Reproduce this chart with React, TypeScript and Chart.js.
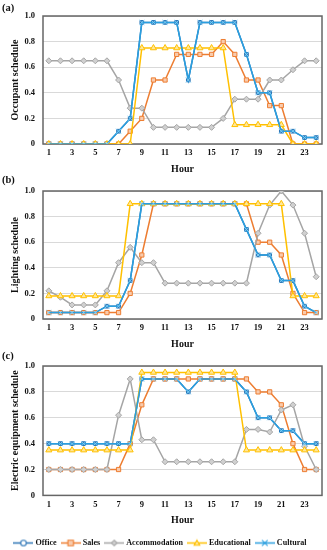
import React, { useEffect, useRef } from 'react';
import { Chart, registerables } from 'chart.js';

Chart.register(...registerables);

// ---------- data ----------
const HOURS = ['1', '2', '3', '4', '5', '6', '7', '8', '9', '10', '11', '12', '13', '14', '15', '16', '17', '18', '19', '20', '21', '22', '23', '24'];
const SERIES_NAMES = ['Office', 'Sales', 'Accommodation', 'Educational', 'Cultural'];
const Y_TICK_STEP = 0.2;

// (a) Occupant schedule
const OCC_OFFICE = [0, 0, 0, 0, 0, 0, 0.1, 0.2, 0.95, 0.95, 0.95, 0.95, 0.5, 0.95, 0.95, 0.95, 0.95, 0.7, 0.4, 0.4, 0.1, 0.1, 0.05, 0.05];
const OCC_SALES = [0, 0, 0, 0, 0, 0, 0, 0.1, 0.2, 0.5, 0.5, 0.7, 0.7, 0.7, 0.7, 0.8, 0.7, 0.5, 0.5, 0.3, 0.3, 0, 0, 0];
const OCC_ACCOM = [0.65, 0.65, 0.65, 0.65, 0.65, 0.65, 0.5, 0.28, 0.28, 0.13, 0.13, 0.13, 0.13, 0.13, 0.13, 0.2, 0.35, 0.35, 0.35, 0.5, 0.5, 0.58, 0.65, 0.65];
const OCC_EDU = [0, 0, 0, 0, 0, 0, 0, 0, 0.75, 0.75, 0.75, 0.75, 0.75, 0.75, 0.75, 0.75, 0.15, 0.15, 0.15, 0.15, 0.15, 0, 0, 0];
const OCC_CULT = [0, 0, 0, 0, 0, 0, 0.1, 0.2, 0.95, 0.95, 0.95, 0.95, 0.5, 0.95, 0.95, 0.95, 0.95, 0.7, 0.4, 0.4, 0.1, 0.1, 0.05, 0.05];

// (b) Lighting schedule
const LIGHT_OFFICE = [0.05, 0.05, 0.05, 0.05, 0.05, 0.1, 0.1, 0.3, 0.9, 0.9, 0.9, 0.9, 0.9, 0.9, 0.9, 0.9, 0.9, 0.7, 0.5, 0.5, 0.3, 0.3, 0.1, 0.05];
const LIGHT_SALES = [0.05, 0.05, 0.05, 0.05, 0.05, 0.05, 0.05, 0.2, 0.5, 0.9, 0.9, 0.9, 0.9, 0.9, 0.9, 0.9, 0.9, 0.9, 0.6, 0.6, 0.5, 0.2, 0.05, 0.05];
const LIGHT_ACCOM = [0.22, 0.17, 0.11, 0.11, 0.11, 0.22, 0.44, 0.56, 0.44, 0.44, 0.28, 0.28, 0.28, 0.28, 0.28, 0.28, 0.28, 0.28, 0.67, 0.89, 1.0, 0.89, 0.67, 0.33];
const LIGHT_EDU = [0.18, 0.18, 0.18, 0.18, 0.18, 0.18, 0.18, 0.9, 0.9, 0.9, 0.9, 0.9, 0.9, 0.9, 0.9, 0.9, 0.9, 0.9, 0.9, 0.9, 0.9, 0.18, 0.18, 0.18];
const LIGHT_CULT = [0.05, 0.05, 0.05, 0.05, 0.05, 0.1, 0.1, 0.3, 0.9, 0.9, 0.9, 0.9, 0.9, 0.9, 0.9, 0.9, 0.9, 0.7, 0.5, 0.5, 0.3, 0.3, 0.1, 0.05];

// (c) Electric equipment schedule
const ELEC_OFFICE = [0.4, 0.4, 0.4, 0.4, 0.4, 0.4, 0.4, 0.4, 0.9, 0.9, 0.9, 0.9, 0.8, 0.9, 0.9, 0.9, 0.9, 0.8, 0.6, 0.6, 0.5, 0.5, 0.4, 0.4];
const ELEC_SALES = [0.2, 0.2, 0.2, 0.2, 0.2, 0.2, 0.2, 0.4, 0.7, 0.9, 0.9, 0.9, 0.9, 0.9, 0.9, 0.9, 0.9, 0.9, 0.8, 0.8, 0.7, 0.4, 0.2, 0.2];
const ELEC_ACCOM = [0.2, 0.2, 0.2, 0.2, 0.2, 0.2, 0.62, 0.9, 0.43, 0.43, 0.26, 0.26, 0.26, 0.26, 0.26, 0.26, 0.26, 0.51, 0.51, 0.49, 0.66, 0.7, 0.38, 0.2];
const ELEC_EDU = [0.35, 0.35, 0.35, 0.35, 0.35, 0.35, 0.35, 0.35, 0.95, 0.95, 0.95, 0.95, 0.95, 0.95, 0.95, 0.95, 0.95, 0.35, 0.35, 0.35, 0.35, 0.35, 0.35, 0.35];
const ELEC_CULT = [0.4, 0.4, 0.4, 0.4, 0.4, 0.4, 0.4, 0.4, 0.9, 0.9, 0.9, 0.9, 0.8, 0.9, 0.9, 0.9, 0.9, 0.8, 0.6, 0.6, 0.5, 0.5, 0.4, 0.4];

// ---------- styles ----------
const FONT = "'Liberation Serif', 'Times New Roman', serif";
const STYLES = [
  { line: '#2E75B6', fill: '#2E75B6', point: 'rect', radius: 2.6 },
  { line: '#ED7D31', fill: '#F8CBAD', point: 'rect', radius: 3 },
  { line: '#A5A5A5', fill: '#D0D0D0', point: 'rectRot', radius: 3 },
  { line: '#FFC000', fill: '#FFE699', point: 'triangle', radius: 3.5 },
  { line: '#2A9FDF', fill: '#2A9FDF', point: 'crossRot', radius: 3.5 },
];
const LEGEND_MARKERS = ['circle', 'rect', 'rectRot', 'triangle', 'crossRot'];

function makeIcon(i: number): HTMLCanvasElement {
  const c = document.createElement('canvas');
  c.width = 20;
  c.height = 9;
  const ctx = c.getContext('2d')!;
  const s = STYLES[i];
  const marker = LEGEND_MARKERS[i];
  ctx.strokeStyle = s.line;
  ctx.lineWidth = 1.5;
  ctx.beginPath();
  ctx.moveTo(0, 4.5);
  ctx.lineTo(20, 4.5);
  ctx.stroke();
  const cx = 10, cy = 4.5, r = 2.8;
  ctx.fillStyle = i === 0 ? '#ffffff' : s.fill;
  ctx.lineWidth = 1.1;
  ctx.beginPath();
  if (marker === 'circle') {
    ctx.arc(cx, cy, r, 0, Math.PI * 2);
    ctx.fill();
    ctx.stroke();
  } else if (marker === 'rect') {
    ctx.rect(cx - r, cy - r, 2 * r, 2 * r);
    ctx.fill();
    ctx.stroke();
  } else if (marker === 'rectRot') {
    ctx.moveTo(cx, cy - r);
    ctx.lineTo(cx + r, cy);
    ctx.lineTo(cx, cy + r);
    ctx.lineTo(cx - r, cy);
    ctx.closePath();
    ctx.fill();
    ctx.stroke();
  } else if (marker === 'triangle') {
    ctx.moveTo(cx, cy - r);
    ctx.lineTo(cx + r, cy + r * 0.8);
    ctx.lineTo(cx - r, cy + r * 0.8);
    ctx.closePath();
    ctx.fill();
    ctx.stroke();
  } else {
    ctx.moveTo(cx - r, cy - r);
    ctx.lineTo(cx + r, cy + r);
    ctx.moveTo(cx + r, cy - r);
    ctx.lineTo(cx - r, cy + r);
    ctx.stroke();
  }
  return c;
}

const boxPlugin = {
  id: 'plotBox',
  beforeDatasetsDraw(chart: any) {
    const { ctx, chartArea } = chart;
    ctx.save();
    ctx.strokeStyle = '#666666';
    ctx.lineWidth = 1.5;
    ctx.strokeRect(chartArea.left, chartArea.top, chartArea.right - chartArea.left, chartArea.bottom - chartArea.top);
    ctx.restore();
  },
};

type PanelProps = {
  top: number;
  height: number;
  yTitle: string;
  series: number[][];
  legend: boolean;
  xAxisHeight: number;
  titlePadBottom: number;
};

function Panel({ top, height, yTitle, series, legend, xAxisHeight, titlePadBottom }: PanelProps) {
  const ref = useRef<HTMLCanvasElement>(null);
  useEffect(() => {
    const icons = SERIES_NAMES.map((_, i) => makeIcon(i));
    const chart = new Chart(ref.current!, {
      type: 'line',
      data: {
        labels: HOURS,
        datasets: series.map((d, i) => ({
          label: SERIES_NAMES[i],
          data: d,
          borderColor: STYLES[i].line,
          backgroundColor: STYLES[i].fill,
          borderWidth: 1.5,
          pointStyle: STYLES[i].point as any,
          pointRadius: STYLES[i].radius,
          pointBorderColor: i === 4 ? '#7CCBF2' : STYLES[i].line,
          pointBackgroundColor: STYLES[i].fill,
          pointBorderWidth: 1,
          tension: 0,
          fill: false,
          order: SERIES_NAMES.length - i,
        })),
      },
      options: {
        animation: false,
        responsive: false,
        maintainAspectRatio: false,
        devicePixelRatio: 1,
        layout: { padding: { top: 16, right: 5, left: 0, bottom: 0 } },
        plugins: {
          tooltip: { enabled: false },
          legend: {
            display: legend,
            position: 'bottom',
            labels: {
              usePointStyle: true,
              pointStyleWidth: 16,
              boxHeight: 8,
              padding: 6,
              color: '#111111',
              font: { family: FONT, size: 8.1, weight: 'bold' },
              generateLabels: () =>
                SERIES_NAMES.map((name, i) => ({
                  text: name,
                  pointStyle: icons[i] as any,
                  fillStyle: 'rgba(0,0,0,0)',
                  strokeStyle: 'rgba(0,0,0,0)',
                  lineWidth: 0,
                  hidden: false,
                  datasetIndex: i,
                  fontColor: '#111111',
                })),
            },
          },
        },
        scales: {
          x: {
            type: 'category',
            offset: true,
            grid: { display: false, drawTicks: false },
            border: { display: false },
            ticks: {
              autoSkip: false,
              maxRotation: 0,
              padding: 4,
              color: '#111111',
              font: { family: FONT, size: 8.5, weight: 'bold' },
              callback: (_v: any, idx: number) => (idx % 2 === 0 ? HOURS[idx] : ''),
            },
            title: {
              display: true,
              text: 'Hour',
              color: '#111111',
              font: { family: FONT, size: 10, weight: 'bold' },
              padding: { top: 0, bottom: titlePadBottom },
            },
            afterFit: (s: any) => {
              s.height = xAxisHeight;
            },
          },
          y: {
            min: 0,
            max: 1,
            grid: { color: '#D9D9D9', drawTicks: false, lineWidth: 1 },
            border: { display: false },
            ticks: {
              stepSize: Y_TICK_STEP,
              padding: 8,
              color: '#111111',
              font: { family: FONT, size: 8.5, weight: 'bold' },
            },
            title: {
              display: true,
              text: yTitle,
              color: '#111111',
              font: { family: FONT, size: 10, weight: 'bold' },
              padding: { top: 9, bottom: 0 },
            },
            afterFit: (s: any) => {
              s.width = 43;
            },
          },
        },
      },
      plugins: [boxPlugin],
    });
    return () => chart.destroy();
  }, []);
  return (
    <canvas
      ref={ref}
      width={327}
      height={height}
      style={{ position: 'absolute', left: 0, top, width: 327, height }}
    />
  );
}

const labelStyle: React.CSSProperties = {
  position: 'absolute',
  left: 2,
  fontFamily: FONT,
  fontWeight: 'bold',
  fontSize: 10.5,
  lineHeight: '12px',
  color: '#111',
};

export default function App() {
  return (
    <div
      style={{
        position: 'fixed',
        left: 0,
        top: 0,
        width: 327,
        height: 550,
        overflow: 'hidden',
        background: '#ffffff',
      }}
    >
      <Panel top={0} height={175} yTitle="Occupant schedule" series={[OCC_OFFICE, OCC_SALES, OCC_ACCOM, OCC_EDU, OCC_CULT]} legend={false} xAxisHeight={31} titlePadBottom={0} />
      <Panel top={175} height={175} yTitle="Lighting schedule" series={[LIGHT_OFFICE, LIGHT_SALES, LIGHT_ACCOM, LIGHT_EDU, LIGHT_CULT]} legend={false} xAxisHeight={31} titlePadBottom={0} />
      <Panel top={350} height={207} yTitle="Electric equipment schedule" series={[ELEC_OFFICE, ELEC_SALES, ELEC_ACCOM, ELEC_EDU, ELEC_CULT]} legend={true} xAxisHeight={37.5} titlePadBottom={6.5} />
      <div style={{ ...labelStyle, top: 2 }}>(a)</div>
      <div style={{ ...labelStyle, top: 174 }}>(b)</div>
      <div style={{ ...labelStyle, top: 350 }}>(c)</div>
    </div>
  );
}
